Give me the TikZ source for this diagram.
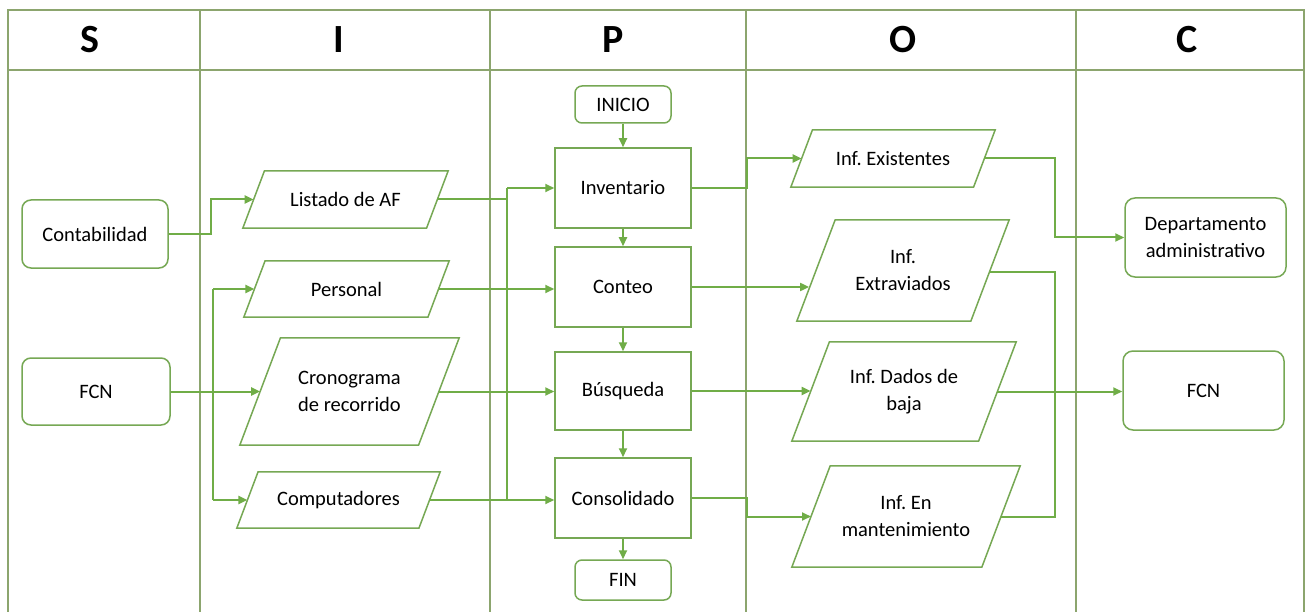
\documentclass[tikz,border=0pt]{standalone}
\usepackage{fontspec}
\setmainfont{Carlito}
\usetikzlibrary{arrows.meta,calc}
\definecolor{frm}{RGB}{140,165,110}
\definecolor{lin}{RGB}{112,173,71}
\definecolor{bdr}{RGB}{118,168,84}
% #1 name, #2 x, #3 y, #4 total width, #5 height, #6 text
\newcommand{\pgram}[6]{%
  \node[pbody, minimum width={#4-0.38*#5}, minimum height=#5] (#1) at (#2,#3) {#6};
  \coordinate (#1-bl) at ($(#1.south west)+(-0.19*#5,0)$);
  \coordinate (#1-tl) at ($(#1.north west)+(0.19*#5,0)$);
  \coordinate (#1-tr) at ($(#1.north east)+(0.19*#5,0)$);
  \coordinate (#1-br) at ($(#1.south east)+(-0.19*#5,0)$);
  \draw[pline] (#1-bl) -- (#1-tl) -- (#1-tr) -- (#1-br) -- cycle;
}
\begin{document}
\frenchspacing
\begin{tikzpicture}[x=1pt,y=-1pt,
  font=\fontsize{20.5}{27}\selectfont,
  conn/.style={draw=lin, line width=2pt, -{Triangle[length=9pt,width=8pt]}},
  ln/.style={draw=lin, line width=2pt},
  frline/.style={draw=frm, line width=1.4pt},
  term/.style={draw=bdr, line width=1.5pt, rounded corners=9pt, fill=white, inner sep=0pt, align=center},
  proc/.style={draw=bdr, line width=1.5pt, fill=white, inner sep=0pt, align=center, minimum width=136pt, minimum height=80pt},
  pbody/.style={inner sep=0pt, align=center},
  pline/.style={draw=bdr, line width=1.5pt, line join=miter},
  hdr/.style={font=\fontsize{40}{44}\selectfont\bfseries, anchor=base, inner sep=0pt}]
\useasboundingbox (0,0) rectangle (1308,612);
\fill[white] (0,0) rectangle (1308,612);
% frame
\draw[frline] (8,612) -- (8,10) -- (1304,10) -- (1304,612);
\draw[frline] (8,70) -- (1304,70);
\foreach \xx in {200,490,746,1076} \draw[frline] (\xx,10) -- (\xx,612);
% headers
\node[hdr] (hS) at (90,53) {S};
\node[hdr] (hI) at (339,53) {I};
\node[hdr] (hP) at (613,53) {P};
\node[hdr] (hO) at (903,53) {O};
\node[hdr] (hC) at (1187,53) {C};
% S column
\node[term, minimum width=146pt, minimum height=68pt] (cont) at (95,234) {Contabilidad};
\node[term, minimum width=148pt, minimum height=67pt] (fcn1) at (96,391.5) {FCN};
% I column
\pgram{list}{345.5}{199.5}{205}{57}{Listado de AF}
\pgram{pers}{346.5}{289}{205}{56}{Personal}
\pgram{cron}{349.5}{391.5}{219}{107}{Cronograma\\de recorrido}
\pgram{comp}{338.5}{500}{203}{56}{Computadores}
% P column
\node[term, rounded corners=7pt, minimum width=96pt, minimum height=37pt] (ini) at (623,104.5) {INICIO};
\node[proc] (inv) at (623,188) {Inventario};
\node[proc] (cnt) at (623,287) {Conteo};
\node[proc, minimum height=78pt] (bus) at (623,391) {Búsqueda};
\node[proc] (cons) at (623,498) {Consolidado};
\node[term, rounded corners=7pt, minimum width=96pt, minimum height=40pt] (fin) at (623,580) {FIN};
% O column
\pgram{exi}{893}{158.5}{204}{57}{Inf. Existentes}
\pgram{ext}{903}{270.5}{212}{101}{Inf.\\Extraviados}
\pgram{dad}{904}{391.5}{224}{99}{Inf. Dados de\\baja}
\pgram{man}{906}{516.5}{228}{101}{Inf. En\\mantenimiento}
% C column
\node[term, rounded corners=10pt, minimum width=161pt, minimum height=79pt] (dep) at (1205.5,237.5) {Departamento\\administrativo};
\node[term, rounded corners=10pt, minimum width=161pt, minimum height=79pt] (fcn2) at (1203.5,390.5) {FCN};
% S -> I
\draw[conn] (cont.east) -- ++(42,0) |- (list.west);
\draw[conn] (fcn1.east) -- (cron.west);
\coordinate (b1) at (213,391);
\draw[ln] (b1 |- pers.west) -- (b1 |- comp.west);
\draw[conn] (b1 |- pers.west) -- (pers.west);
\draw[conn] (b1 |- comp.west) -- (comp.west);
% I -> P
\coordinate (b2) at (507,188);
\draw[ln] (list.east) -- (list.east -| b2);
\draw[ln] (b2) -- (b2 |- comp.east);
\draw[conn] (b2 |- inv.west) -- (inv.west);
\draw[conn] (pers.east) -- (pers.east -| cnt.west);
\draw[conn] (cron.east) -- (cron.east -| bus.west);
\draw[conn] (comp.east) -- (comp.east -| cons.west);
% P flow
\draw[conn] (ini) -- (inv);
\draw[conn] (inv) -- (cnt);
\draw[conn] (cnt) -- (bus);
\draw[conn] (bus) -- (cons);
\draw[conn] (cons) -- (fin);
% P -> O
\draw[conn] (inv.east) -- ++(55,0) |- (exi.west);
\coordinate (e2) at ($(ext-bl)!0.32!(ext-tl)$);
\draw[conn] (cnt.east) -- (cnt.east -| e2);
\draw[conn] (bus.east) -- (bus.east -| dad.west);
\draw[conn] (cons.east) -- ++(55,0) |- (man.west);
% O -> C
\coordinate (vx) at (1055,0);
\draw[conn] (exi.east) -- (exi.east -| vx) |- (dep.west);
\draw[ln] ($(ext.east)+(0,1.5)$) -- ($(ext.east -| vx)+(0,1.5)$) -- (man.east -| vx) -- (man.east);
\draw[conn] (dad.east) -- (dad.east -| fcn2.west);
\end{tikzpicture}
\end{document}
